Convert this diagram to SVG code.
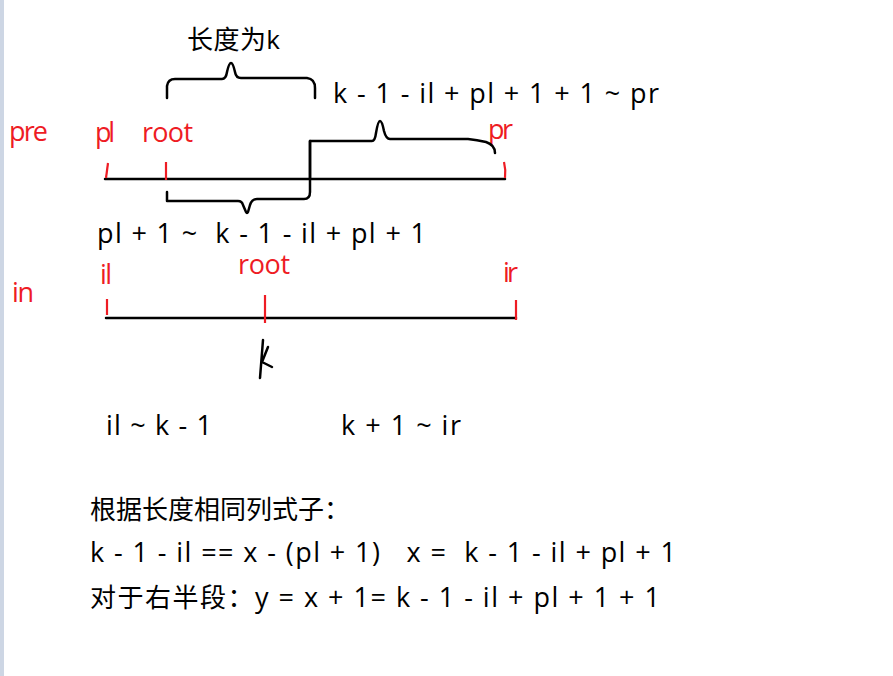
<svg xmlns="http://www.w3.org/2000/svg" width="893" height="676" viewBox="0 0 893 676">
<style>
text { font-family: "Open Sans", "Noto Sans CJK SC", sans-serif; font-size: 27px; white-space: pre; }
.cj { font-size: 26px; }
.k { fill: #000000; }
.r { fill: #ee1c24; }
.ln { fill: none; stroke: #000000; stroke-width: 2.5; stroke-linecap: round; stroke-linejoin: round; }
.tk { fill: none; stroke: #ee1c24; stroke-width: 2.2; stroke-linecap: butt; }
</style>
<rect x="0" y="0" width="893" height="676" fill="#ffffff"/>
<rect x="0" y="0" width="4" height="676" fill="#cdd6e4"/>

<g id="labels-top">
  <text class="k cj" x="187" y="49" textLength="93" lengthAdjust="spacing">长度为k</text>
  <text class="k" x="333" y="103" textLength="326" lengthAdjust="spacing">k - 1 - il + pl + 1 + 1 ~ pr</text>
</g>

<g id="pre-row">
  <text class="r" x="9" y="141" textLength="39" lengthAdjust="spacing">pre</text>
  <text class="r" x="95" y="142" textLength="20" lengthAdjust="spacing">pl</text>
  <text class="r" x="142" y="142" textLength="51" lengthAdjust="spacing">root</text>
  <text class="r" x="488" y="139" textLength="25" lengthAdjust="spacing">pr</text>
  <path class="ln" d="M105,179 L505,179"/>
  <path class="tk" d="M108,163 L106,178"/>
  <path class="tk" d="M166,162 L166,180"/>
  <path class="tk" d="M504,162 Q506,170 505,178"/>
</g>

<g id="brackets">
  <path class="ln" d="M167,98 L167,86 Q168,79 175,79 L222,79 Q226,79 227,72 Q229,63 231,63 Q233,63 235,72 Q236,78 241,78 L307,78 Q315,79 315,88 L315,98"/>
  <path class="ln" d="M310,178 L310,141 L372,141 Q375,141 376,133 Q378,121 380,121 Q382,121 384,131 Q386,139 390,139 L468,139 Q477,140 486,142 Q495,145 495,153"/>
  <path class="ln" d="M310,141 L310,192 Q310,199 304,199 L257,199 Q252,199 250,205 L248,212 Q247,214 246,212 L243,205 Q242,201 238,201 L167,201 L167,192"/>
</g>

<g id="label-left-range">
  <text class="k" x="97" y="243" textLength="329" lengthAdjust="spacing">pl + 1 ~  k - 1 - il + pl + 1</text>
</g>

<g id="in-row">
  <text class="r" x="12" y="302" textLength="22" lengthAdjust="spacing">in</text>
  <text class="r" x="100" y="284" textLength="12" lengthAdjust="spacing">il</text>
  <text class="r" x="238" y="274" textLength="52" lengthAdjust="spacing">root</text>
  <text class="r" x="503" y="282" textLength="15" lengthAdjust="spacing">ir</text>
  <path class="ln" d="M106,318 L516,318"/>
  <path class="tk" d="M107,299 L107,315"/>
  <path class="tk" d="M265,295 L265,323"/>
  <path class="tk" d="M516,300 L516,320"/>
  <path class="ln" d="M263,340 L260,378 M268,347 L262,362 L272,367" stroke-width="2"/>
</g>

<g id="ranges">
  <text class="k" x="106" y="435" textLength="106" lengthAdjust="spacing">il ~ k - 1</text>
  <text class="k" x="341" y="435" textLength="120" lengthAdjust="spacing">k + 1 ~ ir</text>
</g>

<g id="notes">
  <text class="k cj" x="90" y="519">根据长度相同列式子：</text>
  <text class="k" x="90" y="562" textLength="586" lengthAdjust="spacing">k - 1 - il == x - (pl + 1)   x =  k - 1 - il + pl + 1</text>
  <text class="k" x="90" y="607" textLength="570" lengthAdjust="spacing"><tspan class="cj">对于右半段：</tspan>y = x + 1= k - 1 - il + pl + 1 + 1</text>
</g>
</svg>
